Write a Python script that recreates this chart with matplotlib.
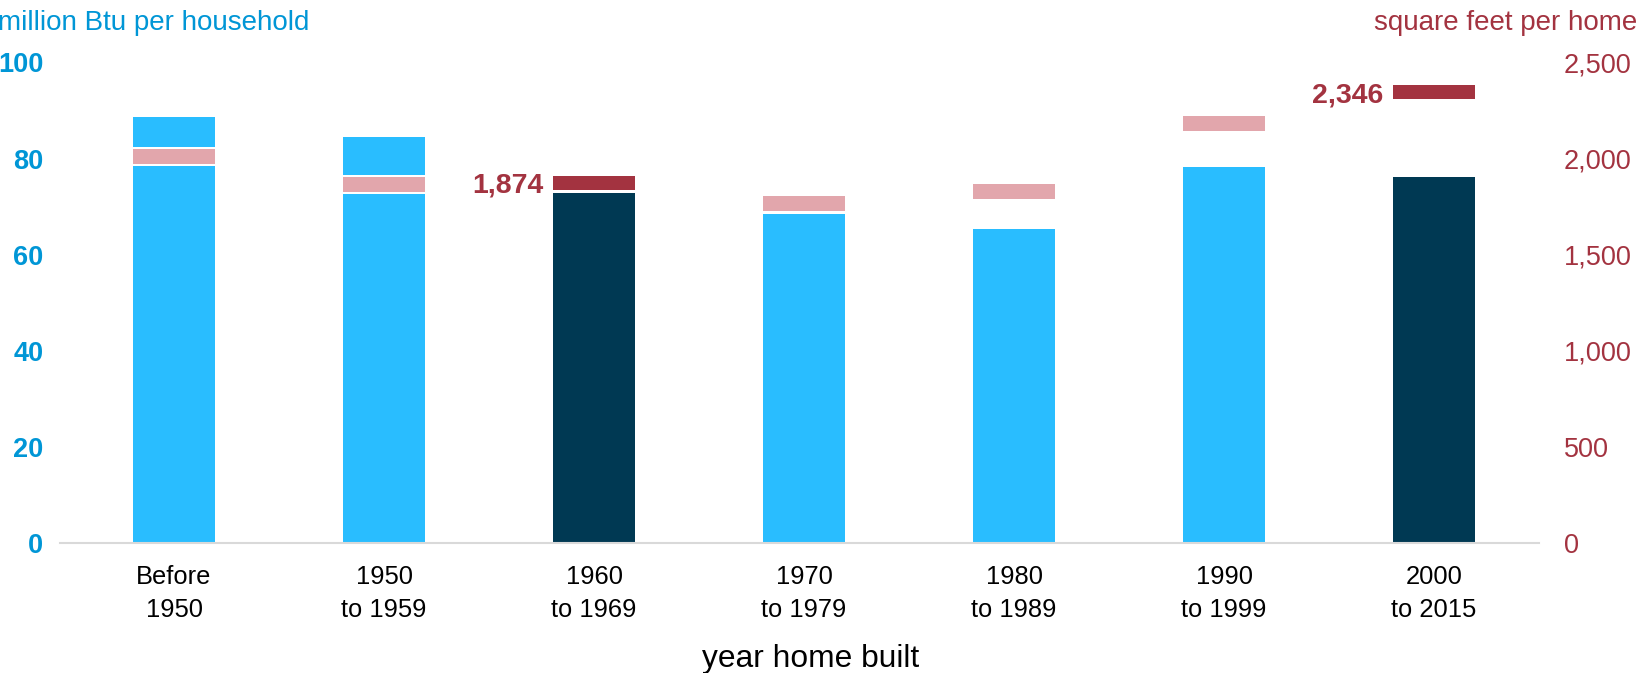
import matplotlib
matplotlib.use("Agg")
import matplotlib.pyplot as plt
import numpy as np

plt.rcParams['font.family'] = ['Liberation Sans', 'DejaVu Sans']

categories = ["Before\n1950", "1950\nto 1959", "1960\nto 1969", "1970\nto 1979",
              "1980\nto 1989", "1990\nto 1999", "2000\nto 2015"]
energy_mmbtu = [88.7, 84.4, 72.8, 68.5, 65.3, 78.2, 76.1]
sqft_per_home = [2010, 1865, 1874, 1765, 1830, 2182, 2346]
highlighted = [False, False, True, False, False, False, True]
left_ticks = [0, 20, 40, 60, 80, 100]
right_ticks = [0, 500, 1000, 1500, 2000, 2500]

LIGHT_BLUE = "#29BDFF"
NAVY = "#003953"
PINK = "#E2A6AC"
DARK_RED = "#A33340"
AXIS_BLUE = "#0096D6"

W, H = 1650, 673
fig = plt.figure(figsize=(W / 100, H / 100), dpi=100)
ax = fig.add_axes([60 / W, 1 - 543 / H, (1539 - 60) / W, (543 - 62.5) / H])
ax2 = ax.twinx()

x = np.arange(len(categories))
bar_colors = [NAVY if h else LIGHT_BLUE for h in highlighted]
ax.bar(x, energy_mmbtu, width=0.39, color=bar_colors, zorder=2)

ax.set_xlim(-0.543, 6.5)
ax.set_ylim(0, 100)
ax2.set_ylim(0, 2500)

# square-footage markers (white halo + coloured dash)
outer_t, inner_t = 100, 76
sq = np.array(sqft_per_home, dtype=float)
ax2.bar(x, outer_t, bottom=sq - outer_t / 2, width=0.42, color="white", zorder=3)
mk_colors = [DARK_RED if h else PINK for h in highlighted]
ax2.bar(x, inner_t, bottom=sq - inner_t / 2, width=0.392, color=mk_colors, zorder=4)

for xi, v, h in zip(x, sqft_per_home, highlighted):
    if h:
        ax2.annotate(f"{v:,}", xy=(xi - 0.196, v), xytext=(-7, 0),
                     textcoords="offset points", ha="right", va="center_baseline",
                     fontsize=20.5, fontweight="bold", color=DARK_RED)

for a in (ax, ax2):
    for s in ("top", "left", "right"):
        a.spines[s].set_visible(False)
ax2.spines["bottom"].set_visible(False)
ax.spines["bottom"].set_color("#D9D9D9")
ax.spines["bottom"].set_linewidth(1.5)

ax.set_xticks(x)
ax.set_xticklabels(categories, fontsize=18.4, color="black", linespacing=1.45)
ax.tick_params(axis="x", length=0, pad=16)

ax.set_yticks(left_ticks)
ax.set_yticklabels([str(t) for t in left_ticks], fontsize=19.5, fontweight="bold", color=AXIS_BLUE)
ax.tick_params(axis="y", length=0, pad=12)

ax2.set_yticks(right_ticks)
ax2.set_yticklabels([f"{t:,}" for t in right_ticks], fontsize=19.5, color=DARK_RED)
ax2.tick_params(axis="y", length=0, pad=18)

fig.text(-0.001, 1 - 29.5 / H, "million Btu per household", ha="left", va="baseline",
         fontsize=20, color=AXIS_BLUE)
fig.text(1637 / W, 1 - 30 / H, "square feet per home", ha="right", va="baseline",
         fontsize=20, color=DARK_RED)
fig.text(811 / W, 1 - 667 / H, "year home built", ha="center", va="baseline",
         fontsize=22.9, color="black")

fig.savefig("out.png", dpi=100)
